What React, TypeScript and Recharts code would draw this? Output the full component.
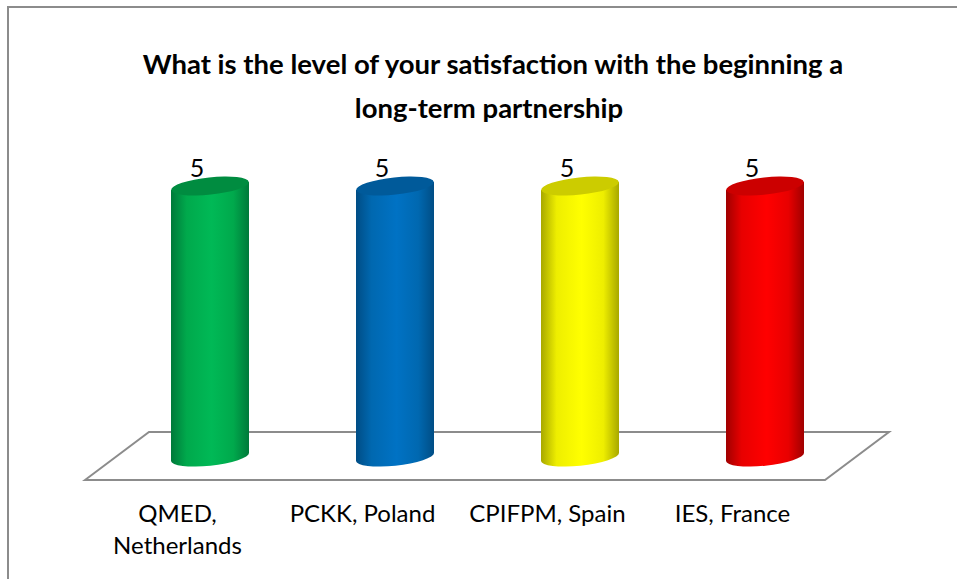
import React from "react";
import { BarChart, Bar, XAxis, YAxis, LabelList, Customized } from "recharts";

const categories = ["QMED,\nNetherlands", "PCKK, Poland", "CPIFPM, Spain", "IES, France"];
const values = [5, 5, 5, 5];
const titleLines = [
  "What is the level of your satisfaction with the beginning a",
  "long-term partnership",
];
const bodyColors = ["#00b956", "#0072c4", "#ffff00", "#ff0000"];
const shadeColors = ["#00a94c", "#0068b0", "#eeee00", "#e80000"];
const edgeColors = ["#00793a", "#004d85", "#a8a800", "#a00000"];
const topColors = ["#008c40", "#005a9a", "#cccc00", "#cc0000"];

const data = categories.map((name, i) => ({ name, value: values[i] }));
const font = "Lato, 'Open Sans', sans-serif";

// the floor of the 3D plot, sits behind the cylinders
const Floor = () => (
  <polygon
    points="85,480 149,432 889,432 825,480"
    fill="#fff"
    stroke="#8c8c8c"
    strokeWidth={2}
  />
);

const Title = () => (
  <text textAnchor="middle" fontFamily={font} fontWeight={700} fontSize={27.5} fill="#000">
    {titleLines.map((line, i) => (
      <tspan key={line} x={i === 0 ? 493 : 489} y={74 + i * 44}>
        {line}
      </tspan>
    ))}
  </text>
);

const Cylinder = (props: any) => {
  const { x, y, width, height, index } = props;
  const rx = width / 2;
  const ry = 8.6;
  const tilt = 4;
  const side = `M${x},${y + tilt} L${x},${y + height + tilt}
    A${rx},${ry} -6 0 0 ${x + width},${y + height - tilt}
    L${x + width},${y - tilt} Z`;
  return (
    <g>
      <defs>
        <linearGradient id={`cyl-${index}`} x1="0" y1="0" x2="1" y2="0">
          <stop offset="0%" stopColor={edgeColors[index]} />
          <stop offset="20%" stopColor={shadeColors[index]} />
          <stop offset="52%" stopColor={bodyColors[index]} />
          <stop offset="80%" stopColor={shadeColors[index]} />
          <stop offset="100%" stopColor={edgeColors[index]} />
        </linearGradient>
      </defs>
      <path d={side} fill={`url(#cyl-${index})`} />
      <ellipse
        cx={x + rx}
        cy={y}
        rx={rx}
        ry={ry}
        fill={topColors[index]}
        transform={`rotate(-6 ${x + rx} ${y})`}
      />
    </g>
  );
};

const CategoryTick = (props: any) => {
  const { x, y, payload } = props;
  return (
    <text textAnchor="middle" fontFamily={font} fontSize={24} fill="#000">
      {String(payload.value)
        .split("\n")
        .map((line, i) => (
          <tspan key={line} x={x - 32} y={y + 57 + i * 32}>
            {line}
          </tspan>
        ))}
    </text>
  );
};

const ValueLabel = (props: any) => {
  const { x, y, width, value } = props;
  return (
    <text x={x + width / 2 - 13} y={y - 9} textAnchor="middle" fontFamily={font} fontSize={25} fill="#000">
      {value}
    </text>
  );
};

export default function App() {
  return (
    <div style={{ position: "absolute", left: 0, top: 0, width: 957, height: 579, background: "#fff", overflow: "hidden" }}>
      <div
        style={{
          position: "absolute",
          left: 7,
          top: 6,
          width: 950,
          height: 573,
          borderTop: "2px solid #8c8c8c",
          borderLeft: "2px solid #8c8c8c",
        }}
      />
      <div style={{ position: "absolute", left: 0, top: 0 }}>
        <BarChart
          width={957}
          height={579}
          data={data}
          margin={{ top: 186, right: 100, bottom: 92, left: 117 }}
        >
          <Customized component={Floor} />
          <Customized component={Title} />
          <XAxis dataKey="name" axisLine={false} tickLine={false} interval={0} tick={<CategoryTick />} />
          <YAxis hide domain={[0, 5]} />
          <Bar dataKey="value" barSize={78} isAnimationActive={false} shape={<Cylinder />}>
            <LabelList dataKey="value" content={<ValueLabel />} />
          </Bar>
        </BarChart>
      </div>
    </div>
  );
}
